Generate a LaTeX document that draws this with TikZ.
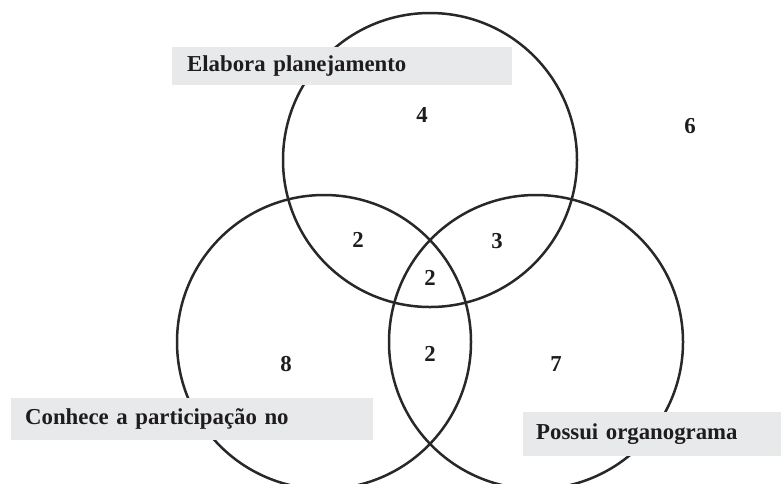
\documentclass[tikz,border=0pt]{standalone}
\usepackage{fontspec}
\setmainfont{Liberation Serif}
\usetikzlibrary{positioning}
\definecolor{ink}{RGB}{40,40,40}
\definecolor{boxgray}{RGB}{232,233,235}
\definecolor{txt}{RGB}{30,28,30}

\begin{document}
\begin{tikzpicture}[x=1pt,y=-1pt,font=\fontsize{22.8}{26}\selectfont\bfseries,
          set/.style={draw=ink,line width=2.5pt,circle,minimum size=294pt,inner sep=0pt},
          lbl/.style={fill=boxgray,anchor=west,align=left,inner ysep=0pt,text=txt},
          num/.style={text=txt}]
        \useasboundingbox (0,0) rectangle (783,483);
        % conjuntos
        \node[set] (plan) at (430,160) {};
        \node[set] (conh) at (324,342) {};
        \node[set] (org) at (536,342) {};
        % rotulos
        \node[lbl,inner xsep=15pt,text width=310pt,minimum height=38pt] (lplan) at (172,66) {Elabora planejamento};
        \node[lbl,inner xsep=14pt,text width=334pt,minimum height=42pt] (lconh) at (11,419) {Conhece a participação no};
        \node[lbl,inner xsep=13pt,text width=232pt,minimum height=44pt] (lorg) at (523,434) {Possui organograma};
        % contagens
        \node[num] (n4) at (422,115) {4};
        \node[num] (n6) at (690,126) {6};
        \node[num] (n2a) at (358,240) {2};
        \node[num] (n3) at (497,241) {3};
        \node[num] (n2b) at (430,278) {2};
        \node[num] (n8) at (286,364) {8};
        \node[num] (n2c) at (430,354) {2};
        \node[num] (n7) at (556,364) {7};
\end{tikzpicture}
\end{document}
